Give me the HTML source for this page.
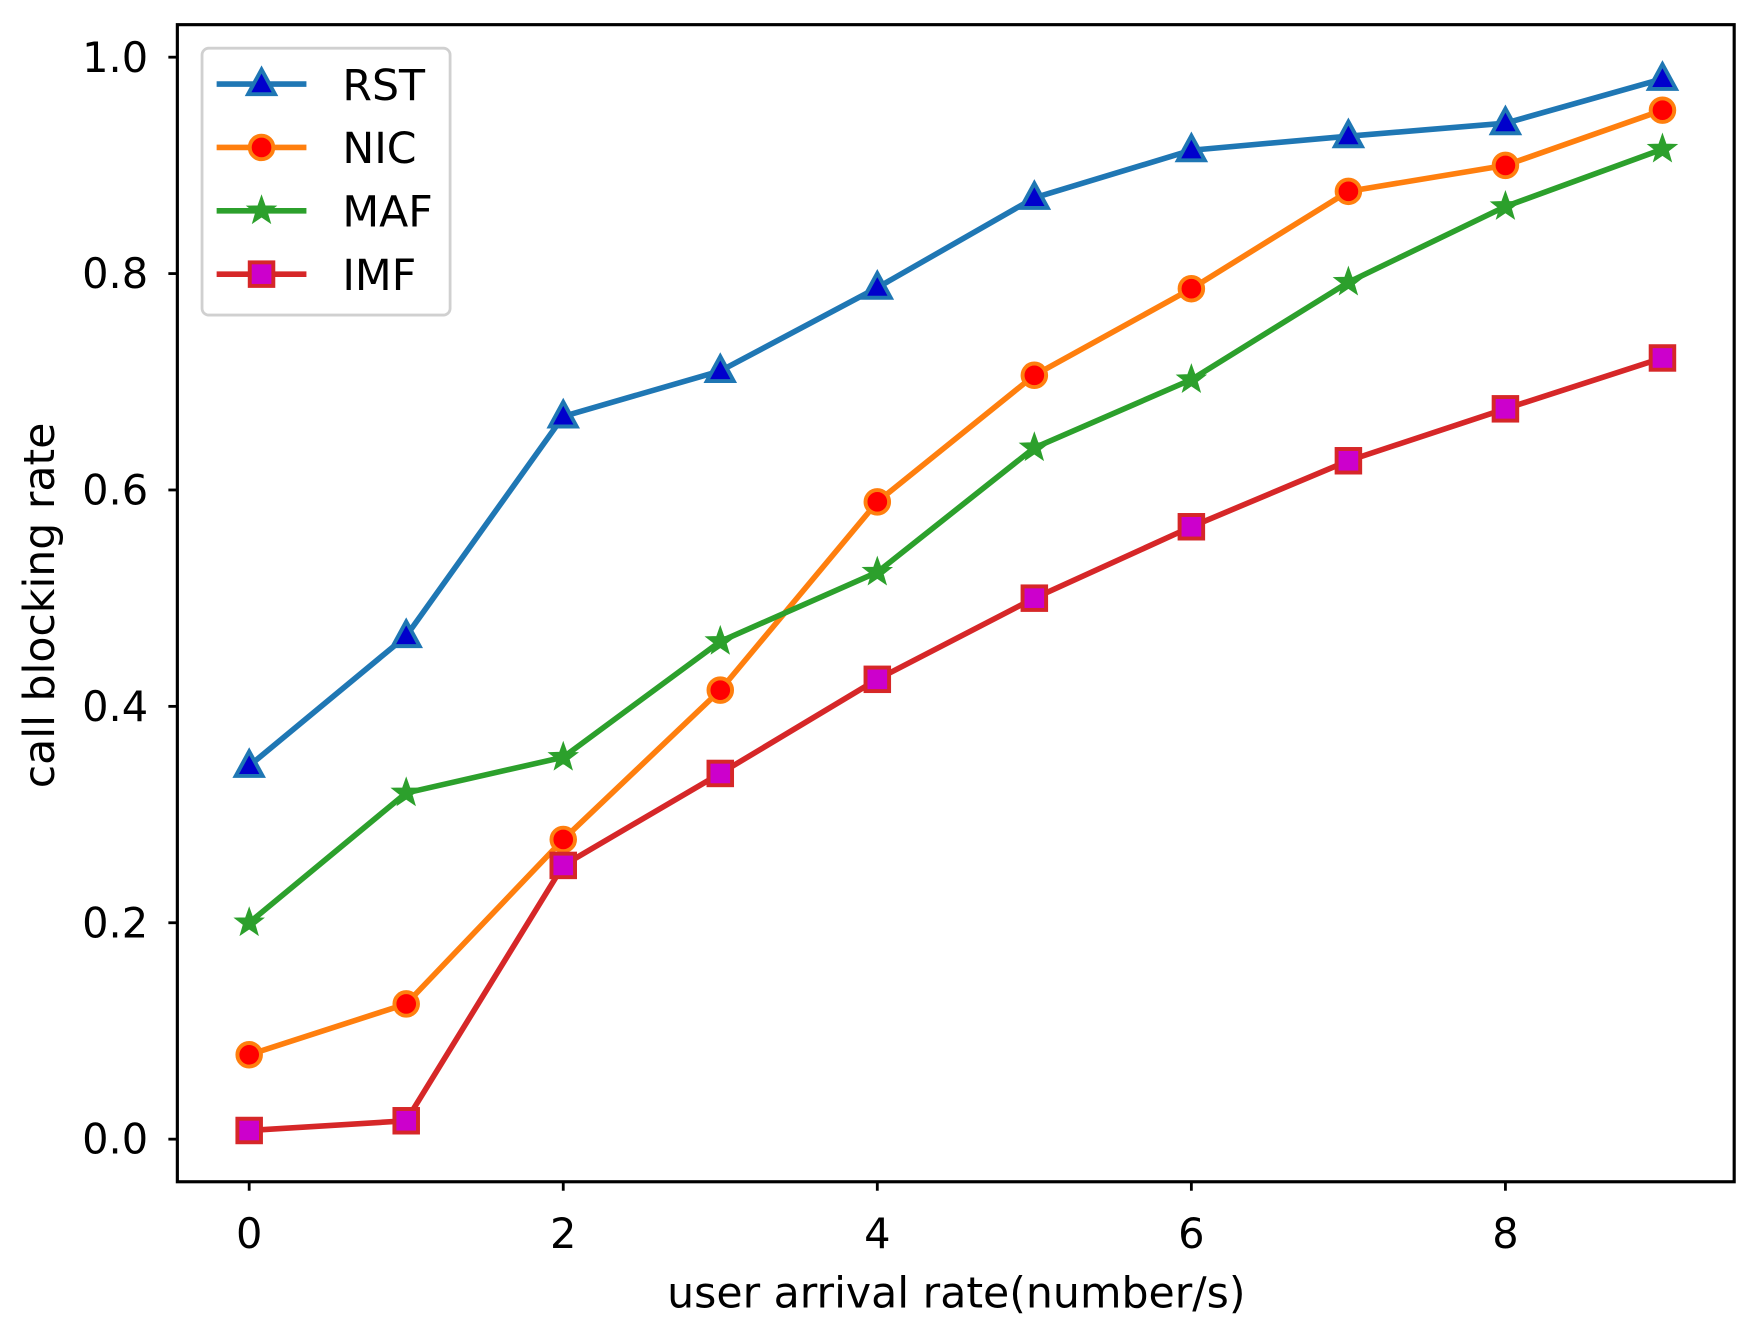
<!DOCTYPE html>
<html><head><meta charset="utf-8"><style>
html,body{margin:0;padding:0;background:#fff;}
svg{display:block;font-family:"DejaVu Sans","Liberation Sans",sans-serif;}
</style></head><body>
<svg id="s" width="1760" height="1332" viewBox="0 0 1568 1188" preserveAspectRatio="none" xmlns="http://www.w3.org/2000/svg">
<rect x="0" y="0" width="1568" height="1188" fill="#fff"/>
<g id="plot"></g>
<rect x="158" y="22" width="1387" height="1032" fill="none" stroke="#000" stroke-width="2.8"/>
<g id="ticks" font-size="37" fill="#000"></g>
<text x="852" y="1166" font-size="38" text-anchor="middle">user arrival rate(number/s)</text>
<text transform="translate(48,540) rotate(-90)" font-size="38" text-anchor="middle">call blocking rate</text>
<g id="legend">
<rect x="180" y="43" width="221" height="238" rx="6" fill="#fff" stroke="#ccc" stroke-width="2.5" opacity="0.9"/>
</g>
</svg>
<script>
const ns="http://www.w3.org/2000/svg";
const X=i=>222+139.9*i, Y=v=>1016-965*v;
function el(p,t,a){const e=document.createElementNS(ns,t);for(const k in a)e.setAttribute(k,a[k]);p.appendChild(e);return e;}
const plot=document.getElementById('plot'),ticks=document.getElementById('ticks'),leg=document.getElementById('legend');
for(let i=0;i<=8;i+=2){el(ticks,'line',{x1:X(i),x2:X(i),y1:1054,y2:1062,stroke:'#000','stroke-width':2.5});
 const t=el(ticks,'text',{x:X(i),y:1113,'text-anchor':'middle'});t.textContent=i;}
for(let k=0;k<=5;k++){const v=k*0.2;el(ticks,'line',{x1:150,x2:158,y1:Y(v),y2:Y(v),stroke:'#000','stroke-width':2.5});
 const t=el(ticks,'text',{x:132,y:Y(v)+13,'text-anchor':'end'});t.textContent=v.toFixed(1);}
const S=[
 {n:'RST',c:'#1f77b4',f:'#0000cc',m:'tri',d:[0.345,0.465,0.668,0.71,0.787,0.87,0.914,0.927,0.939,0.98]},
 {n:'NIC',c:'#ff7f0e',f:'#ff0000',m:'circ',d:[0.078,0.125,0.277,0.415,0.589,0.706,0.786,0.876,0.9,0.951]},
 {n:'MAF',c:'#2ca02c',f:'#2ca02c',m:'star',d:[0.2,0.32,0.353,0.46,0.524,0.639,0.702,0.792,0.862,0.915]},
 {n:'IMF',c:'#d62728',f:'#cc00cc',m:'sq',d:[0.008,0.017,0.253,0.338,0.425,0.5,0.566,0.627,0.675,0.722]}];
function mk(p,s,x,y){
 if(s.m=='tri')el(p,'polygon',{points:`${x},${y-13} ${x-12},${y+9} ${x+12},${y+9}`,fill:s.f,stroke:s.c,'stroke-width':3.5,'stroke-linejoin':'miter'});
 else if(s.m=='circ')el(p,'circle',{cx:x,cy:y,r:10.5,fill:s.f,stroke:s.c,'stroke-width':3.5});
 else if(s.m=='sq')el(p,'rect',{x:x-10.5,y:y-10.5,width:21,height:21,fill:s.f,stroke:s.c,'stroke-width':3.5});
 else{let pts=[];for(let i=0;i<10;i++){const r=i%2?4.5:11,a=-Math.PI/2+i*Math.PI/5;pts.push((x+r*Math.cos(a)).toFixed(1)+','+(y+r*Math.sin(a)).toFixed(1));}
  el(p,'polygon',{points:pts.join(' '),fill:s.f,stroke:s.c,'stroke-width':2.5});}
}
S.forEach((s,j)=>{
 el(plot,'polyline',{points:s.d.map((v,i)=>X(i)+','+Y(v)).join(' '),fill:'none',stroke:s.c,'stroke-width':5,'stroke-linejoin':'round'});
 s.d.forEach((v,i)=>mk(plot,s,X(i),Y(v)));
 const ly=75+56.5*j;
 el(leg,'line',{x1:193,x2:273,y1:ly,y2:ly,stroke:s.c,'stroke-width':5});
 mk(leg,s,233,ly);
 const t=el(leg,'text',{x:305,y:ly+14,'font-size':38});t.textContent=s.n;
});
</script>
</body></html>
